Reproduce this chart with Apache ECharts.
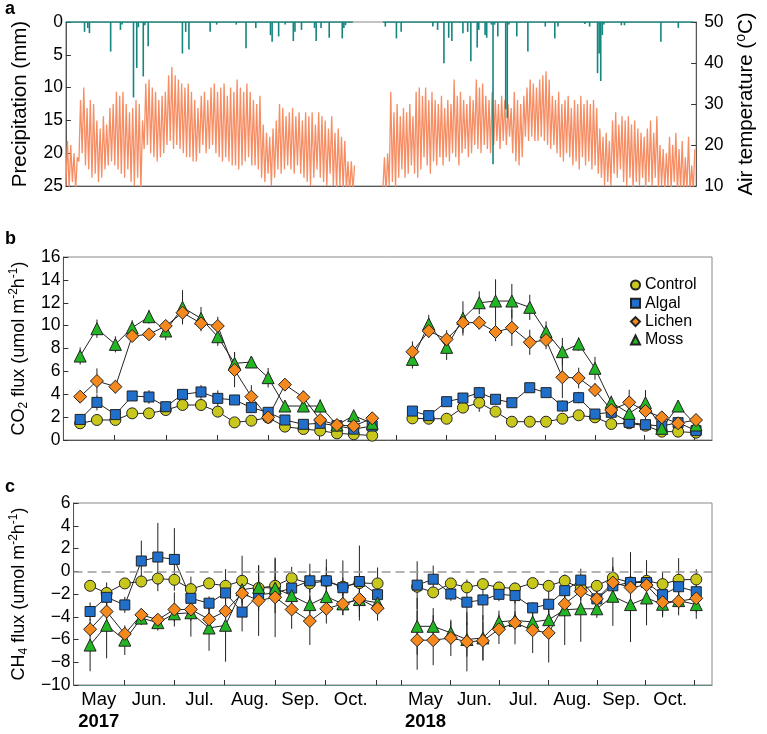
<!DOCTYPE html>
<html><head><meta charset="utf-8">
<script src="https://cdn.jsdelivr.net/npm/echarts@6/dist/echarts.min.js"></script>
<style>html,body{margin:0;padding:0;background:#fff}#c{width:767px;height:734px}</style>
</head><body><div id="c"></div>
<script>
// ================= DATA =================
const monthLabels = ['May', 'Jun.', 'Jul.', 'Aug.', 'Sep.', 'Oct.'];
const yearLabels = ['2017', '2018'];
const seriesNames = ['Control', 'Algal', 'Lichen', 'Moss'];
// sampling dates: days after 1 May (same schedule both years)
const sampleDays = [10, 20, 31, 41, 51, 61, 71, 82, 92, 102, 112, 122, 132, 143, 153, 163, 173, 184];

// CO2 flux (first 18 = 2017, last 18 = 2018)
const co2Control = [1.46,1.75,1.75,2.33,2.33,2.62,3.06,3.06,2.48,1.54,1.69,1.95,1.17,0.96,0.82,0.58,0.50,0.38,
                    1.89,1.86,1.86,2.83,3.26,2.48,1.60,1.60,1.60,1.86,2.16,1.98,1.40,1.46,1.25,0.73,0.73,0.64];
const co2Algal   = [1.80,3.29,2.22,3.85,3.76,2.91,3.99,4.20,3.64,3.50,2.83,2.42,1.75,1.37,1.46,1.25,0.95,1.22,
                    2.53,2.13,3.35,3.67,4.14,3.56,3.26,4.57,4.14,2.97,3.70,2.27,2.42,1.54,1.34,1.22,1.52,0.82];
const co2Lichen  = [3.79,5.16,4.66,9.09,9.24,9.97,11.13,10.20,9.97,6.12,3.79,1.98,4.84,3.73,1.75,1.31,1.22,1.90,
                    7.72,9.53,8.80,10.26,10.26,9.44,9.82,8.54,8.74,5.48,5.42,4.37,2.62,3.29,2.53,1.98,1.46,1.75];
const co2Moss    = [7.34,9.73,8.36,9.82,10.78,9.53,11.60,10.63,9.03,6.70,6.82,5.45,2.97,2.97,2.97,1.31,2.13,1.46,
                    7.05,10.14,8.10,10.63,12.00,12.15,12.15,11.60,9.47,7.72,8.39,6.27,3.29,2.33,3.26,1.02,2.97,1.31];
const co2ControlErr = [0.2,0.2,0.2,0.3,0.3,0.3,0.4,0.4,0.3,0.2,0.2,0.3,0.2,0.2,0.2,0.2,0.1,0.1,
                       0.2,0.2,0.2,0.4,0.8,0.4,0.2,0.2,0.2,0.3,0.3,0.3,0.2,0.2,0.2,0.2,0.2,0.1];
const co2AlgalErr   = [0.3,0.7,0.4,0.4,0.6,0.4,0.4,0.6,0.7,0.3,0.4,0.4,0.3,0.2,0.3,0.2,0.2,0.2,
                       0.3,0.3,0.4,0.4,0.5,0.4,0.3,0.3,0.3,0.5,0.5,0.4,0.4,0.3,0.3,0.3,0.2,0.2];
const co2LichenErr  = [0.3,1.1,0.6,0.4,0.4,0.5,0.8,0.7,0.8,1.5,1.0,0.3,0.4,0.6,0.3,0.3,0.2,0.3,
                       0.9,0.6,0.8,0.9,0.6,0.8,1.6,1.1,0.8,1.8,0.9,0.6,0.6,1.1,0.7,0.5,0.4,0.3];
const co2MossErr    = [0.75,0.8,0.7,0.65,0.6,0.8,1.5,1.0,0.8,1.0,0.45,0.85,0.4,0.5,0.6,0.3,0.3,0.3,
                       0.8,0.8,1.1,1.5,1.0,1.9,1.5,1.1,0.9,1.2,0.6,1.0,0.6,0.6,1.1,0.4,0.4,0.3];

// CH4 flux (first 18 = 2017, last 18 = 2018)
const ch4Control = [-1.28,-1.91,-1.07,-0.90,-0.64,-0.75,-1.57,-1.07,-1.28,-0.84,-1.48,-1.28,-0.61,-1.07,-0.84,-1.36,-1.04,-1.07,
                    -1.36,-1.86,-1.07,-1.42,-1.13,-1.42,-1.51,-1.04,-1.28,-0.84,-1.51,-1.28,-0.58,-0.99,-0.84,-1.13,-0.75,-0.72];
const ch4Algal   = [-3.54,-2.29,-2.96,0.90,1.25,1.04,-2.38,-2.81,-1.91,-3.59,-2.06,-1.91,-1.48,-0.84,-0.84,-1.45,-0.90,-2.06,
                    -1.22,-0.70,-2.00,-2.72,-2.52,-2.03,-2.14,-3.22,-2.90,-1.71,-0.78,-2.43,-1.28,-0.99,-0.99,-2.06,-1.36,-1.80];
const ch4Lichen  = [-5.10,-3.54,-5.51,-3.83,-4.26,-3.36,-3.36,-4.23,-3.51,-1.94,-2.58,-2.29,-3.36,-4.38,-3.30,-2.87,-2.43,-3.25,
                    -6.06,-6.06,-5.86,-6.20,-6.12,-5.10,-4.52,-5.19,-5.42,-2.87,-1.77,-2.43,-0.99,-1.42,-1.22,-2.72,-2.64,-2.38];
const ch4Moss    = [-6.49,-4.75,-6.06,-4.12,-4.52,-3.74,-3.65,-4.99,-4.75,-1.62,-1.42,-1.48,-2.14,-2.93,-2.23,-2.87,-2.49,-2.78,
                    -4.84,-4.84,-5.42,-6.00,-5.86,-4.46,-4.32,-4.46,-4.26,-3.39,-3.30,-3.30,-2.20,-2.93,-2.35,-2.90,-2.58,-2.93];
const ch4ControlErr = [0.3,0.4,0.3,0.5,0.6,0.5,1.1,0.5,0.6,2.2,2.0,2.4,1.0,0.8,1.9,0.8,3.3,1.4,
                       0.5,0.4,0.4,0.5,0.5,0.4,0.5,0.4,0.4,0.4,0.6,0.5,1.8,0.6,0.6,0.5,1.9,0.9];
const ch4AlgalErr   = [0.8,1.3,0.7,1.8,3.0,2.75,0.7,0.6,2.1,1.7,0.6,0.6,0.6,1.5,1.2,2.4,0.5,0.5,
                       2.1,1.2,0.6,2.0,1.8,0.6,0.7,0.5,1.5,0.6,1.0,0.7,0.8,0.6,0.8,2.0,0.6,0.5];
const ch4LichenErr  = [0.6,0.8,0.6,0.6,0.5,1.5,1.0,1.0,0.7,0.6,3.1,3.5,1.7,2.1,1.3,0.6,1.6,1.1,
                       2.6,2.2,1.6,2.6,1.7,1.3,1.9,2.0,2.6,1.0,0.8,0.7,1.2,3.1,2.2,1.2,0.7,1.8];
const ch4MossErr    = [2.3,2.9,1.3,0.6,0.7,0.7,2.1,2.0,3.2,1.2,1.0,1.0,1.2,0.8,1.0,1.0,1.0,0.8,
                       2.5,1.6,1.0,1.5,2.0,1.0,0.8,0.8,0.8,3.1,2.9,0.8,2.6,3.3,2.4,0.8,1.3,0.7];

// Air temperature: alternating daily low / high, every 2 days (°C)
const temp2017StartDay = 0;
const temp2017Lo = [10,9,11,9,16,18,15,14,12,13, 11,12,14,15,16,15,14,13,12,14, 11,10,12,9,19,20,18,17,16,17,
                    18,20,21,19,20,19,18,17,17,16, 16,18,20,18,19,20,18,17,16,17, 16,15,15,14,15,16,17,15,15,14,
                    12,11,13,10,12,14,13,14,15,14, 13,15,13,12,11,10,12,14,12,11, 10,13,10,9,10,9,9,8,9];
const temp2017Hi = [21,20,18,17,31,34,29,31,30,26, 24,27,25,29,30,33,32,33,30,28, 29,31,30,26,35,36,34,33,31,32,
                    33,37,39,37,36,35,34,35,33,31, 29,32,33,31,34,35,33,34,35,32, 34,33,36,34,33,35,33,31,30,32,
                    25,23,22,24,26,30,29,27,28,29, 27,28,26,28,27,28,25,28,27,26, 24,27,23,24,22,21,16,16,15];
const temp2018StartDay = -4;
const temp2018Lo = [9,8,10,11,9,12,14,12,13,15, 13,12,14,17,15,13,16,15,17,15, 17,16,18,17,15,18,19,17,18,20,
                    19,18,20,19,18,20,21,19,21,20, 22,18,16,15,17,22,21,22,21,21, 22,21,20,19,20,18,17,16,18,17,
                    15,16,14,17,15,16,14,15,13,12, 10,11,10,13,12,14,11,10,12,9, 11,10,12,9,11,10,12,9,10,9,
                    10,9,11,8,9,8,9,8,9];
const temp2018Hi = [17,18,33,28,30,27,29,28,30,27, 33,34,32,34,31,33,31,30,32,29, 31,30,36,32,33,31,30,32,31,36,
                    34,35,32,31,33,31,30,32,31,30, 29,33,31,30,32,34,36,35,34,36, 37,38,36,32,31,33,30,31,32,29,
                    31,30,32,30,31,30,31,29,24,22, 23,21,26,28,25,27,26,27,25,26, 24,23,22,24,26,23,27,20,19,18,
                    22,20,23,19,21,17,22,15,19];

// Precipitation (mm): recorded period, rain days (days after 1 May) and amounts
const rain2017Range = [0, 176];
const rain2017Days = [12,14,15,28,34,35,42,44,45,48,49,51,72,74,76,89,93,105,111,117,126,127,131,135,140,141,145,153,154,157,162,170,171,172];
const rain2017Mm   = [1.5,0.9,1.7,4.5,1.2,0.4,11.5,7.0,0.8,8.3,0.5,3.7,4.8,1.5,4.2,1.5,0.4,0.4,4.0,0.9,2.0,3.0,2.2,0.4,2.9,1.5,1.2,0.9,2.9,0.9,2.4,2.5,0.9,0.5];
const rain2018Range = [-4, 192];
const rain2018Days = [-3,4,7,27,30,34,37,39,46,49,51,55,56,60,61,64,65,66,68,73,74,75,80,87,98,104,106,123,126,131,132,133,134,135,146,148,171,182];
const rain2018Mm   = [0.7,2.5,1.5,0.7,1.2,6.3,2.4,2.9,1.7,1.5,6.0,3.9,1.2,2.0,2.4,0.4,21.7,0.4,2.2,13.3,14.6,0.4,2.2,4.5,0.7,2.5,0.7,0.3,0.7,7.8,4.8,9.0,2.0,0.4,0.5,0.5,3.0,0.9];

// ================= AXIS MAPPING (broken time axis) =================
const DAYS_PER_MONTH = 30.5;
const SEG2_OFFSET = 6.5;     // axis position of 1 May 2018
const SEG2_SCALE = 0.971;    // 2018 segment month width relative to 2017
const X_MAX = 12.67;
function pos(year, day) {
  const m = day / DAYS_PER_MONTH;
  return year === 2017 ? m : SEG2_OFFSET + m * SEG2_SCALE;
}
const tickVals = [];
for (let k = 1; k <= 6; k++) tickVals.push(pos(2017, k * DAYS_PER_MONTH));
for (let k = 0; k <= 6; k++) tickVals.push(pos(2018, k * DAYS_PER_MONTH));
const labelVals = [], labelTexts = [];
[2017, 2018].forEach((yr, yi) => {
  monthLabels.forEach((mName, k) => {
    labelVals.push(pos(yr, (k + 0.5) * DAYS_PER_MONTH));
    labelTexts.push(k === 0 ? mName + '\n{yr|' + yearLabels[yi] + '}' : mName);
  });
});

// ================= BUILD SERIES =================
const FONT = 'Liberation Sans, Arial, sans-serif';
const styles = {
  Control: {symbol: 'circle', size: 11, color: '#c8c81c'},
  Algal:   {symbol: 'rect', size: 10, color: '#1f6fcb'},
  Lichen:  {symbol: 'diamond', size: 13, color: '#f5891e'},
  Moss:    {symbol: 'triangle', size: 12, color: '#22b524'}
};
const co2 = {Control: [co2Control, co2ControlErr], Algal: [co2Algal, co2AlgalErr], Lichen: [co2Lichen, co2LichenErr], Moss: [co2Moss, co2MossErr]};
const ch4 = {Control: [ch4Control, ch4ControlErr], Algal: [ch4Algal, ch4AlgalErr], Lichen: [ch4Lichen, ch4LichenErr], Moss: [ch4Moss, ch4MossErr]};

function yearPoints(vals, year) {
  const off = year === 2017 ? 0 : 18;
  return sampleDays.map((d, i) => [pos(year, d), vals[off + i]]);
}
function errPoints(vals, errs) {
  const out = [];
  [2017, 2018].forEach(year => {
    const off = year === 2017 ? 0 : 18;
    sampleDays.forEach((d, i) => out.push([pos(year, d), vals[off + i] - errs[off + i], vals[off + i] + errs[off + i]]));
  });
  return out;
}
const series = [];
function addFluxPanel(src, xi, yi, withZero) {
  const errData = [];
  seriesNames.forEach(n => errPoints(src[n][0], src[n][1]).forEach(p => errData.push(p)));
  series.push({
    type: 'custom', xAxisIndex: xi, yAxisIndex: yi, z: 1, silent: true,
    data: errData,
    renderItem: (params, api) => {
      const p1 = api.coord([api.value(0), api.value(1)]);
      const p2 = api.coord([api.value(0), api.value(2)]);
      return {type: 'line', shape: {x1: p1[0], y1: p1[1], x2: p2[0], y2: p2[1]}, style: {stroke: '#222', lineWidth: 1}};
    }
  });
  const order = ['Control', 'Algal', 'Moss', 'Lichen'];
  order.forEach(n => {
    [2017, 2018].forEach(year => {
      const s = {
        type: 'line', name: n, xAxisIndex: xi, yAxisIndex: yi, z: 3,
        data: yearPoints(src[n][0], year),
        symbol: styles[n].symbol, symbolSize: styles[n].size,
        lineStyle: {color: '#222', width: 1},
        itemStyle: {color: styles[n].color, borderColor: '#222', borderWidth: 1},
        emphasis: {disabled: true}, animation: false
      };
      if (withZero && n === 'Control' && year === 2017) {
        s.markLine = {silent: true, symbol: 'none', label: {show: false},
          lineStyle: {type: [9, 5], color: '#9a9a9a', width: 1.5}, data: [{yAxis: 0}]};
      }
      series.push(s);
    });
  });
}

function tempData(year, start, lo, hi) {
  const out = [];
  for (let i = 0; i < lo.length; i++) {
    out.push([pos(year, start + 2 * i), lo[i]]);
    out.push([pos(year, start + 2 * i + 1), hi[i]]);
  }
  return out;
}
[[2017, temp2017StartDay, temp2017Lo, temp2017Hi], [2018, temp2018StartDay, temp2018Lo, temp2018Hi]].forEach(t => {
  series.push({type: 'line', xAxisIndex: 0, yAxisIndex: 1, z: 2, showSymbol: false, symbol: 'none',
    data: tempData(t[0], t[1], t[2], t[3]), lineStyle: {color: '#f68d63', width: 1.3}, animation: false, silent: true});
});
[[2017, rain2017Range, rain2017Days, rain2017Mm], [2018, rain2018Range, rain2018Days, rain2018Mm]].forEach(r => {
  // zero baseline over the recorded period
  series.push({type: 'line', xAxisIndex: 0, yAxisIndex: 0, z: 4, showSymbol: false, symbol: 'none',
    data: [[pos(r[0], r[1][0]), 0], [pos(r[0], r[1][1]), 0]], lineStyle: {color: '#14857f', width: 1.5}, animation: false, silent: true});
  series.push({type: 'bar', xAxisIndex: 0, yAxisIndex: 0, z: 4, barWidth: 1.6,
    data: r[2].map((d, i) => [pos(r[0], d), r[3][i]]), itemStyle: {color: '#14857f'}, animation: false, silent: true});
});
addFluxPanel(co2, 1, 2, false);
addFluxPanel(ch4, 2, 3, true);

// ================= AXES =================
const axisLineStyle = {color: '#555', width: 1};
const minusFmt = v => String(v).replace('-', '\u2212');
function xAxis(gi, labels) {
  return {
    type: 'value', gridIndex: gi, min: 0, max: X_MAX,
    splitLine: {show: false},
    axisLine: {show: true, onZero: false, lineStyle: gi === 2 ? {color: '#5f8c86', width: 1.2} : axisLineStyle},
    axisTick: gi === 0 ? {show: false} : {show: true, inside: true, length: 5, customValues: tickVals, lineStyle: {color: '#333'}},
    axisLabel: labels ? {
      show: true, customValues: labelVals, margin: 5, color: '#000', fontSize: 18.5, fontFamily: FONT, lineHeight: 20,
      formatter: v => { const i = labelVals.findIndex(u => Math.abs(u - v) < 1e-6); return i >= 0 ? labelTexts[i] : ''; },
      rich: {yr: {fontWeight: 'bold', fontSize: 18.5, fontFamily: FONT, color: '#000', lineHeight: 24}}
    } : {show: false}
  };
}
function nameStyle(size) {
  return {fontSize: size, color: '#000', fontFamily: FONT, lineHeight: size + 4,
    rich: {sup: {fontSize: Math.round(size * 0.66), verticalAlign: 'top', lineHeight: size + 4, fontFamily: FONT, color: '#000'},
           sub: {fontSize: Math.round(size * 0.66), verticalAlign: 'bottom', lineHeight: size + 4, fontFamily: FONT, color: '#000'}}};
}
function yAxis(gi, opts) {
  return Object.assign({
    type: 'value', gridIndex: gi, splitLine: {show: false},
    axisLine: {show: true, onZero: false, lineStyle: axisLineStyle},
    axisTick: {show: true, inside: true, length: 5, lineStyle: {color: '#333'}},
    axisLabel: {color: '#000', fontSize: 17.5, fontFamily: FONT, margin: 3, formatter: minusFmt},
    nameLocation: 'middle', nameRotate: 90,
    nameTextStyle: nameStyle(18)
  }, opts);
}

const option = {
  animation: false,
  textStyle: {fontFamily: FONT},
  grid: [
    {left: 53, top: 22, width: 658, height: 164, show: true, borderColor: '#888', borderWidth: 1},
    {left: 53, top: 257, width: 659, height: 183, show: true, borderColor: '#888', borderWidth: 1},
    {left: 53, top: 503, width: 659, height: 184, show: true, borderColor: '#888', borderWidth: 1}
  ],
  xAxis: [xAxis(0, false), xAxis(1, false), xAxis(2, true)],
  yAxis: [
    yAxis(0, {min: 0, max: 25, interval: 5, inverse: true, name: 'Precipitation (mm)', nameGap: 29, nameTextStyle: nameStyle(20.5)}),
    yAxis(0, {min: 10, max: 50, interval: 10, position: 'right', name: 'Air temperature ({sup|o}C)', nameGap: 30, nameTextStyle: nameStyle(20.5),
      axisLabel: {color: '#000', fontSize: 17.5, fontFamily: FONT, margin: 8}}),
    yAxis(1, {min: 0, max: 16, interval: 2, name: 'CO{sub|2} flux (umol m{sup|-2}h{sup|-1})', nameGap: 31}),
    yAxis(2, {min: -10, max: 6, interval: 2, name: 'CH{sub|4} flux (umol m{sup|-2}h{sup|-1})', nameGap: 31})
  ],
  legend: {
    orient: 'vertical', left: 625, top: 272, itemWidth: 9, itemHeight: 9, itemGap: 2.3,
    textStyle: {fontSize: 16, color: '#000', fontFamily: FONT, lineHeight: 16},
    data: [{name: 'Control', icon: 'circle'}, {name: 'Algal', icon: 'rect'}, {name: 'Lichen', icon: 'diamond'}, {name: 'Moss', icon: 'triangle'}],
    selectedMode: false
  },
  graphic: [
    {type: 'text', left: 5, top: 0, style: {text: 'a', font: 'bold 18px Liberation Sans, Arial', fill: '#000'}},
    {type: 'text', left: 5, top: 230, style: {text: 'b', font: 'bold 18px Liberation Sans, Arial', fill: '#000'}},
    {type: 'text', left: 5, top: 478, style: {text: 'c', font: 'bold 18px Liberation Sans, Arial', fill: '#000'}}
  ],
  series: series
};
const chart = echarts.init(document.getElementById('c'), null, {renderer: 'canvas'});
chart.setOption(option);
</script>
</body></html>
